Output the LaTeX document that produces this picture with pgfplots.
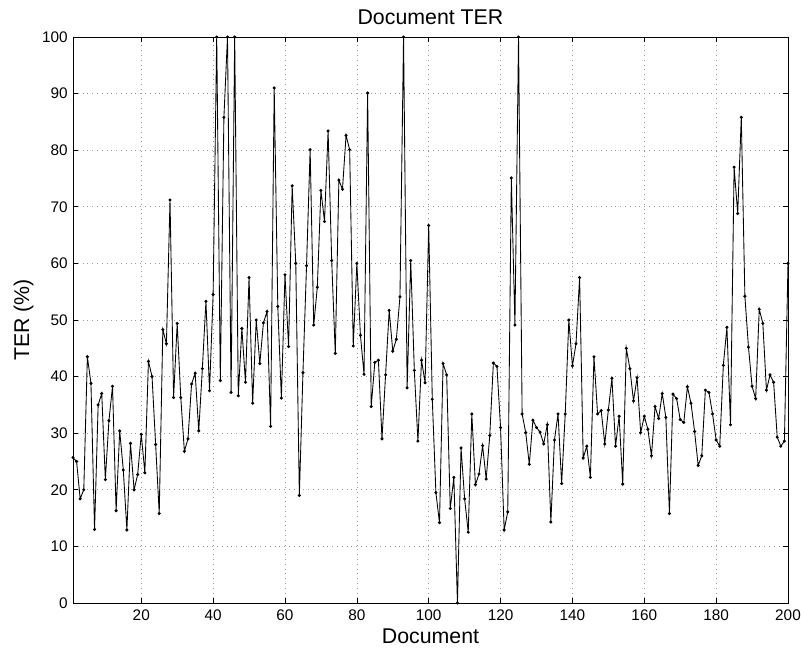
\documentclass[border=0pt]{standalone}
\usepackage{pgfplots}
\pgfplotsset{compat=1.18}
\usepackage{fontspec}
\setmainfont{Liberation Sans}

\pgfplotstableread{
doc ter
1 25.7
2 25.0
3 18.4
4 20.0
5 43.5
6 38.8
7 13.0
8 35.0
9 37.0
10 21.8
11 32.2
12 38.3
13 16.3
14 30.4
15 23.5
16 12.9
17 28.2
18 20.0
19 22.7
20 29.8
21 23.0
22 42.7
23 40.0
24 28.0
25 15.8
26 48.3
27 45.8
28 71.2
29 36.3
30 49.4
31 36.3
32 26.8
33 29.0
34 38.7
35 40.6
36 30.4
37 41.4
38 53.3
39 37.5
40 54.5
41 100
42 39.3
43 85.8
44 100
45 37.2
46 100
47 36.6
48 48.5
49 39.0
50 57.5
51 35.3
52 50.0
53 42.3
54 49.5
55 51.5
56 31.2
57 91.0
58 52.4
59 36.2
60 58.0
61 45.3
62 73.7
63 60.0
64 19.0
65 40.7
66 59.6
67 80.1
68 49.1
69 55.8
70 72.9
71 67.4
72 83.4
73 60.5
74 44.1
75 74.7
76 73.1
77 82.6
78 80.1
79 45.4
80 60.0
81 47.3
82 40.4
83 90.1
84 34.7
85 42.5
86 42.9
87 29.0
88 40.3
89 51.7
90 44.5
91 46.6
92 54.1
93 100
94 38.0
95 60.5
96 41.1
97 28.6
98 42.9
99 38.9
100 66.7
101 36.0
102 19.5
103 14.2
104 42.3
105 40.3
106 16.7
107 22.2
108 0
109 27.4
110 18.4
111 12.5
112 33.4
113 20.9
114 22.8
115 27.8
116 21.9
117 29.6
118 42.4
119 41.8
120 31.0
121 12.9
122 16.1
123 75.1
124 49.1
125 100
126 33.4
127 30.1
128 24.5
129 32.3
130 31.0
131 30.2
132 28.1
133 31.5
134 14.3
135 28.8
136 33.4
137 21.1
138 33.4
139 50.0
140 41.9
141 45.8
142 57.5
143 25.6
144 27.7
145 22.2
146 43.5
147 33.4
148 34.0
149 28.1
150 34.1
151 39.7
152 27.7
153 33.0
154 21.0
155 45.0
156 41.4
157 35.7
158 39.8
159 30.1
160 33.0
161 30.7
162 26.0
163 34.7
164 32.6
165 37.0
166 32.8
167 15.8
168 36.9
169 36.1
170 32.4
171 31.9
172 38.2
173 35.3
174 30.3
175 24.3
176 26.0
177 37.6
178 37.2
179 33.4
180 28.8
181 27.7
182 42.0
183 48.7
184 31.5
185 77.0
186 68.8
187 85.8
188 54.2
189 45.2
190 38.3
191 36.1
192 51.9
193 49.4
194 37.6
195 40.3
196 39.0
197 29.3
198 27.7
199 28.6
200 60.0
}\terdata

\begin{document}
\begin{tikzpicture}
% page = 801x648 px at 0.75pt per px
\path[use as bounding box] (-54.75pt,-33.75pt) rectangle (546pt,452.25pt);
\begin{axis}[
    at={(0pt,0pt)}, anchor=south west,
    scale only axis,
    width=536.25pt, height=424.5pt,
    xmin=1, xmax=200, ymin=0, ymax=100,
    xtick={20,40,...,200},
    ytick={0,10,...,100},
    tick align=inside,
    major tick length=4pt,
    tick style={black, line width=0.5pt},
    axis line style={line width=0.6pt},
    grid=major,
    major grid style={gray!80, line width=0.5pt, dash pattern=on 0.6pt off 3pt},
    tick label style={font=\fontsize{11.5}{13}\selectfont, inner sep=0pt},
    /pgf/number format/assume math mode=true,
    xticklabel style={anchor=north, yshift=-5.25pt},
    yticklabel style={anchor=east, xshift=-3.75pt},
    title={Document TER},
    title style={font=\fontsize{16}{18}\selectfont, at={(axis description cs:0.5,1)}, anchor=base, yshift=3pt, inner sep=0pt},
    xlabel={Document},
    ylabel={TER (\%)},
    label style={font=\fontsize{16}{18}\selectfont, inner sep=0pt},
    xlabel style={at={(axis description cs:0.5,0)}, anchor=base, yshift=-30.5pt},
    ylabel style={at={(axis description cs:-0.0615,0.5)}, anchor=base},
]
\addplot[black, line width=0.65pt, mark=*, mark size=0.8pt] table[x=doc, y=ter] {\terdata};
\end{axis}
\end{tikzpicture}
\end{document}
